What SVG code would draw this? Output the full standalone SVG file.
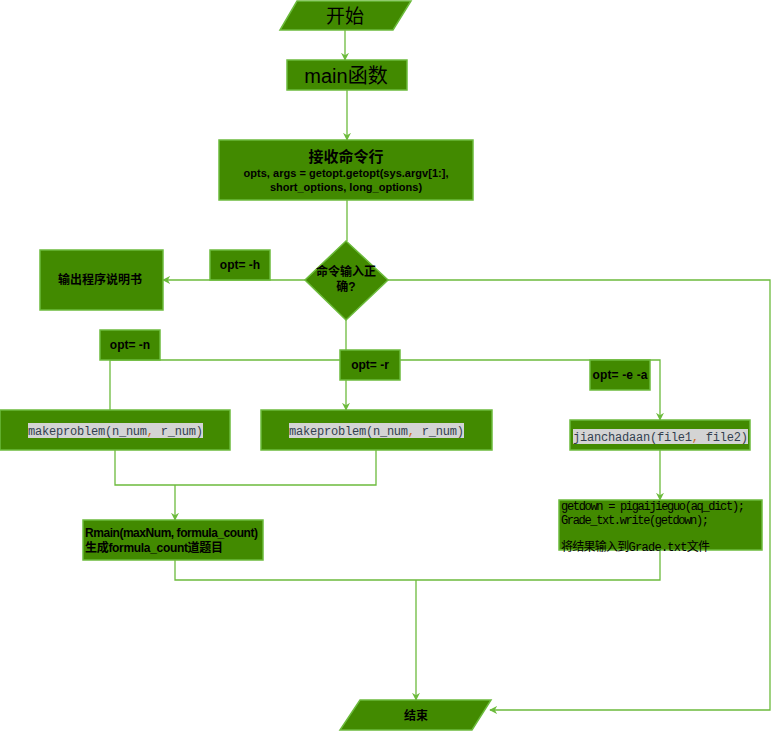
<svg xmlns="http://www.w3.org/2000/svg" width="779" height="732" viewBox="0 0 779 732">
<style>
.n{fill:#428a00;stroke:#6cbb3c;stroke-width:1.5}
.c{fill:none;stroke:#6cbb3c;stroke-width:1.3}
.t{font-family:"Liberation Sans","Noto Sans CJK SC",sans-serif;fill:#000;text-anchor:middle}
.l{text-anchor:start}
.b{font-weight:bold;font-size:12px}
.m{font-family:"Liberation Mono","Noto Sans CJK SC",monospace;font-size:12px;fill:#333f4f}
.k{font-family:"Liberation Mono","Noto Sans CJK SC",monospace;font-size:12px;fill:#000}
.bg{fill:#d4d4d4}
</style>
<defs>
<marker id="a" viewBox="0 0 10 10" refX="9" refY="5" markerWidth="8" markerHeight="8" orient="auto" markerUnits="userSpaceOnUse">
<path d="M0,0 L10,5 L0,10 L3,5 Z" fill="#6cbb3c"/>
</marker>
</defs>
<g id="connectors">
<path class="c" d="M345,30 V60" marker-end="url(#a)"/>
<path class="c" d="M347,90 V140" marker-end="url(#a)"/>
<path class="c" d="M347,200 V241"/>
<path class="c" d="M305,280 H163" marker-end="url(#a)"/>
<path class="c" d="M388,280 H770 V710 H490" marker-end="url(#a)"/>
<path class="c" d="M346,320 V410" marker-end="url(#a)"/>
<path class="c" d="M110,410 V360 H660 V420" marker-end="url(#a)"/>
<path class="c" d="M115,450 V485 H376 V450"/>
<path class="c" d="M175,485 V520" marker-end="url(#a)"/>
<path class="c" d="M660,450 V500" marker-end="url(#a)"/>
<path class="c" d="M175,560 V580 H660 V550"/>
<path class="c" d="M416,580 V700" marker-end="url(#a)"/>
</g>
<g id="start">
<polygon class="n" points="297,1 411,1 393,30 280,30"/>
<text class="t" x="345" y="23" font-size="19">开始</text>
</g>
<g id="main">
<rect class="n" x="287" y="60" width="120" height="30"/>
<text class="t" x="346" y="83" font-size="20">main函数</text>
</g>
<g id="recv">
<rect class="n" x="219" y="140" width="254" height="60"/>
<text class="t" x="346" y="162" font-size="15" font-weight="bold">接收命令行</text>
<text class="t" x="346" y="177" font-size="11" font-weight="bold" textLength="205">opts, args = getopt.getopt(sys.argv[1:],</text>
<text class="t" x="346" y="191" font-size="11" font-weight="bold">short_options, long_options)</text>
</g>
<g id="check">
<polygon class="n" points="346,241 388,280 346,320 305,280"/>
<text class="t b" x="346" y="276">命令输入正</text>
<text class="t b" x="346" y="291">确?</text>
</g>
<g id="help">
<rect class="n" x="40" y="250" width="123" height="60"/>
<text class="t b" x="100" y="284">输出程序说明书</text>
</g>
<g id="opt-h">
<rect class="n" x="210" y="250" width="60" height="30"/>
<text class="t b" x="240" y="269">opt= -h</text>
</g>
<g id="opt-n">
<rect class="n" x="100" y="330" width="60" height="30"/>
<text class="t b" x="130" y="349">opt= -n</text>
</g>
<g id="opt-r">
<rect class="n" x="340" y="350" width="60" height="30"/>
<text class="t b" x="370" y="369">opt= -r</text>
</g>
<g id="opt-ea">
<rect class="n" x="590" y="360" width="60" height="30"/>
<text class="t b" x="620" y="379" textLength="55">opt= -e  -a</text>
</g>
<g id="make1">
<rect class="n" x="0" y="410" width="230" height="40"/>
<rect class="bg" x="28" y="423" width="175" height="15"/>
<text class="m" x="28" y="435" textLength="175">makeproblem(n_num<tspan fill="#d06a20">,</tspan> r_num)</text>
</g>
<g id="make2">
<rect class="n" x="261" y="410" width="231" height="40"/>
<rect class="bg" x="289" y="423" width="175" height="15"/>
<text class="m" x="289" y="435" textLength="175">makeproblem(n_num<tspan fill="#d06a20">,</tspan> r_num)</text>
</g>
<g id="jiancha">
<rect class="n" x="570" y="420" width="180" height="30"/>
<rect class="bg" x="573" y="429" width="175" height="15"/>
<text class="m" x="573" y="441" textLength="175">jianchadaan(file1<tspan fill="#d06a20">,</tspan> file2)</text>
</g>
<g id="rmain">
<rect class="n" x="83" y="520" width="180" height="40"/>
<text class="t l" x="85" y="537" font-size="12" font-weight="bold" textLength="173">Rmain(maxNum, formula_count)</text>
<text class="t l" x="85" y="552" font-size="12" font-weight="bold" textLength="138">生成formula_count道题目</text>
</g>
<g id="getdown">
<rect class="n" x="559" y="500" width="203" height="50"/>
<text class="k" x="561" y="510" textLength="184">getdown = pigaijieguo(aq_dict);</text>
<text class="k" x="561" y="524" textLength="148">Grade_txt.write(getdown);</text>
<text class="k" x="561" y="551" textLength="149">将结果输入到Grade.txt文件</text>
</g>
<g id="end">
<polygon class="n" points="360,700 491,700 472,730 340,730"/>
<text class="t b" x="416" y="720" font-size="13">结束</text>
</g>
</svg>
